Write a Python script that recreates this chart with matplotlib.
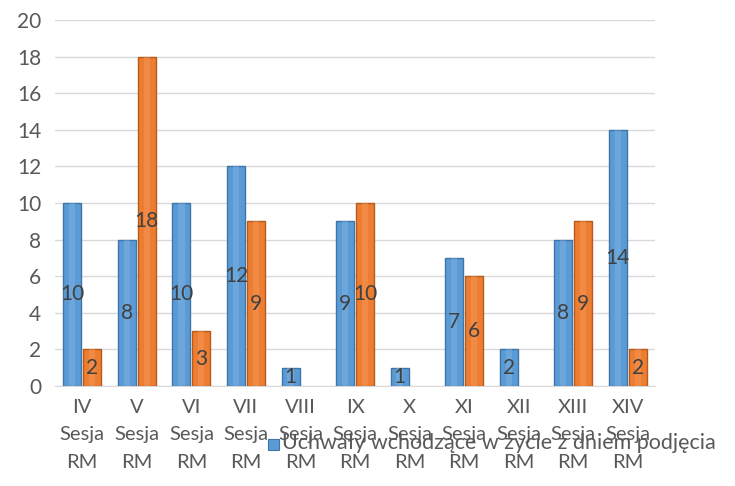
import matplotlib.pyplot as plt
import numpy as np

plt.rcParams['font.family'] = ['Lato', 'DejaVu Sans']

sessions = ['IV', 'V', 'VI', 'VII', 'VIII', 'IX', 'X', 'XI', 'XII', 'XIII', 'XIV']
blue_vals = [10, 8, 10, 12, 1, 9, 1, 7, 2, 8, 14]
orange_vals = [2, 18, 3, 9, 0, 10, 0, 6, 0, 9, 2]
legend_text = 'Uchwały wchodzące w życie z dniem podjęcia'

fig = plt.figure(figsize=(7.35, 4.86), dpi=100)
ax = fig.add_axes([55 / 735, 100 / 486, 600 / 735, 366 / 486])

x = np.arange(len(sessions))
w = 0.33
gap = 0.035
txt = '#404040'

bars_b = ax.bar(x - w / 2 - gap / 2, blue_vals, w, color='#5b9bd5',
                edgecolor='#3f75a8', linewidth=1.0, zorder=3)
bars_o = ax.bar(x + w / 2 + gap / 2, orange_vals, w, color='#ed7d31',
                edgecolor='#b85a1c', linewidth=1.0, zorder=3)

# soft highlight stripe to mimic the bevel look
for bars, hl in ((bars_b, '#8dbbe6'), (bars_o, '#f7a56c')):
    for b in bars:
        h = b.get_height()
        if h <= 0:
            b.set_linewidth(0)
            continue
        ax.bar(b.get_x() + b.get_width() * 0.5, h, b.get_width() * 0.35,
               color=hl, alpha=0.35, linewidth=0, zorder=4)

for bars, vals in ((bars_b, blue_vals), (bars_o, orange_vals)):
    for b, v in zip(bars, vals):
        if v == 0:
            continue
        ax.text(b.get_x() + b.get_width() / 2, v / 2, str(v), ha='center',
                va='center', fontsize=15, color=txt, zorder=5)

ax.set_ylim(0, 20)
ax.set_xlim(-0.5, len(sessions) - 0.5)
ax.set_yticks(range(0, 21, 2))
ax.set_xticks(x)
ax.set_xticklabels([s + '\nSesja\nRM' for s in sessions], linespacing=1.75)
ax.tick_params(axis='both', length=0, labelsize=14.5, colors='#595959')
ax.tick_params(axis='y', pad=10, labelsize=15)
ax.tick_params(axis='x', pad=9)
ax.yaxis.grid(True, color='#d9d9d9', linewidth=1, zorder=0)
for s in ('top', 'right', 'left'):
    ax.spines[s].set_visible(False)
ax.spines['bottom'].set_color('#d9d9d9')

fig.patches.append(plt.Rectangle((268 / 735, 1 - 450 / 486), 11 / 735, 11 / 486,
                                 transform=fig.transFigure, color='#5b9bd5',
                                 ec='#3f75a8', lw=0.8))
fig.text(282 / 735, 1 - 443 / 486, legend_text, fontsize=15.5, color='#595959',
         va='center', ha='left')

fig.savefig('out.png', dpi=100)
